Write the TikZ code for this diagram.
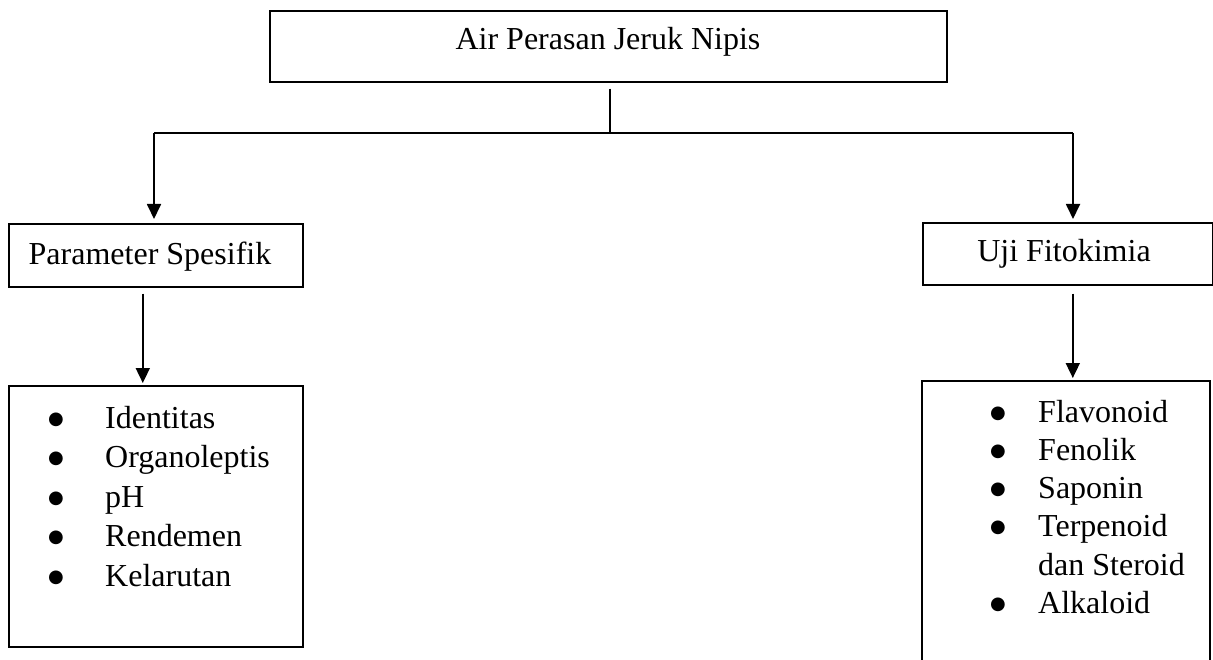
\documentclass[tikz,border=0pt]{standalone}
\usepackage{fontspec}
\setmainfont{Liberation Serif}
\newfontfamily\symfont{DejaVu Sans}
\usetikzlibrary{arrows.meta}
\newcommand\bigbul{\raisebox{4pt}{\symfont\fontsize{18}{18}\selectfont ●}}
\begin{document}
\begin{tikzpicture}[x=1pt,y=-1pt,
  box/.style={draw, line width=1.6pt, inner sep=0pt, anchor=north west},
  lbl/.style={font=\fontsize{32}{38}\selectfont, inner sep=0pt},
  arr/.style={line width=1.8pt, -{Triangle[length=15pt,width=14pt]}},
  conn/.style={line width=1.2pt}]
\useasboundingbox (0,0) rectangle (1213,660);
\clip (0,0) rectangle (1213,660);
% boxes
\node[box, minimum width=677pt, minimum height=71pt] (top) at (269,10) {};
\node[box, minimum width=294pt, minimum height=63pt] (ps) at (8,223) {};
\node[box, minimum width=290pt, minimum height=62pt] (uf) at (922,222) {};
\node[box, minimum width=294pt, minimum height=261pt] (pl) at (8,385) {};
\node[box, minimum width=288pt, minimum height=320pt] (ul) at (921,380) {};
% texts
\node[lbl, anchor=base] (toptxt) at (608,50) {Air Perasan Jeruk Nipis};
\node[lbl, anchor=base] (pstxt) at (150,265) {Parameter Spesifik};
\node[lbl, anchor=base] (uftxt) at (1064,262) {Uji Fitokimia};
\node[inner sep=0pt, anchor=base west] (pltxt) at (48,428) {\fontsize{32}{39.5}\selectfont
  \begin{tabular}[t]{@{}p{57pt}@{}l@{}}
  \bigbul & Identitas\\
  \bigbul & Organoleptis\\
  \bigbul & pH\\
  \bigbul & Rendemen\\
  \bigbul & Kelarutan
  \end{tabular}};
\node[inner sep=0pt, anchor=base west] (ultxt) at (990,422) {\fontsize{32}{38.3}\selectfont
  \begin{tabular}[t]{@{}p{48pt}@{}l@{}}
  \bigbul & Flavonoid\\
  \bigbul & Fenolik\\
  \bigbul & Saponin\\
  \bigbul & Terpenoid\\
    & dan Steroid\\
  \bigbul & Alkaloid
  \end{tabular}};
% connectors
\coordinate (j) at (610,133);
\coordinate (jl) at (154,133);
\coordinate (jr) at (1073,133);
\draw[conn] (j |- top.south) ++(0,6) -- (j);
\draw[conn] (jl) -- (jr);
\draw[arr, shorten >=4pt] (jl) -- (jl |- ps.north);
\draw[arr, shorten >=3pt] (jr) -- (jr |- uf.north);
\draw[arr, shorten <=6pt, shorten >=2pt] ([xshift=-13pt]ps.south) -- ([xshift=-13pt]ps.south |- pl.north);
\draw[arr, shorten <=8pt, shorten >=2pt] ([xshift=5pt]uf.south) -- ([xshift=5pt]uf.south |- ul.north);
\end{tikzpicture}
\end{document}
